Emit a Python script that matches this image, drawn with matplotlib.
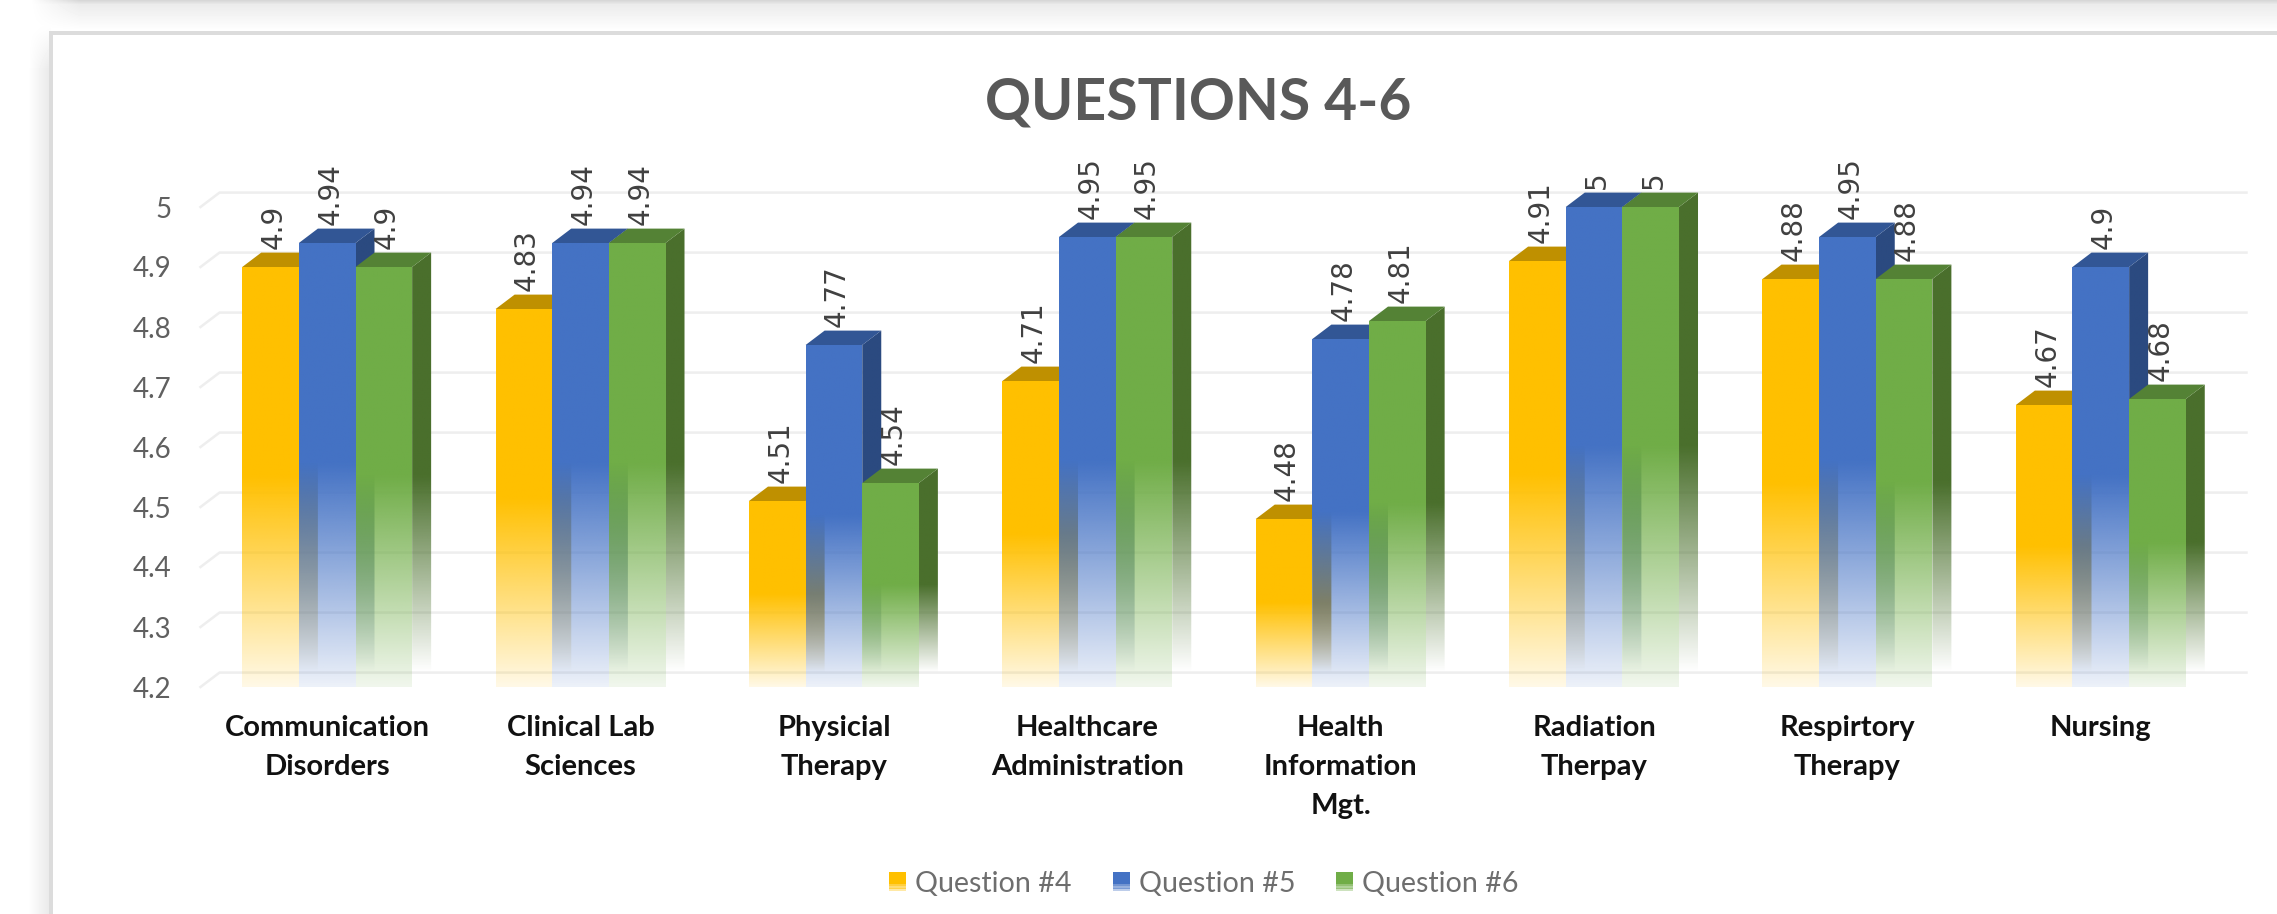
import numpy as np
import matplotlib
matplotlib.use('Agg')
import matplotlib.pyplot as plt
from matplotlib.colors import to_rgb
from matplotlib.legend_handler import HandlerBase
from matplotlib.patches import Polygon, Rectangle

categories = ['Communication\nDisorders', 'Clinical Lab\nSciences', 'Physicial\nTherapy',
              'Healthcare\nAdministration', 'Health\nInformation\nMgt.', 'Radiation\nTherpay',
              'Respirtory\nTherapy', 'Nursing']
q4 = [4.9, 4.83, 4.51, 4.71, 4.48, 4.91, 4.88, 4.67]
q5 = [4.94, 4.94, 4.77, 4.95, 4.78, 5, 4.95, 4.9]
q6 = [4.9, 4.94, 4.54, 4.95, 4.81, 5, 4.88, 4.68]
series_names = ['Question #4', 'Question #5', 'Question #6']
y_ticks = [4.2, 4.3, 4.4, 4.5, 4.6, 4.7, 4.8, 4.9, 5]
y_tick_labels = ['4.2', '4.3', '4.4', '4.5', '4.6', '4.7', '4.8', '4.9', '5']

front_cols = ['#FFC000', '#4472C4', '#70AD47']
top_cols = ['#BF9000', '#325695', '#548235']
side_cols = ['#BF9000', '#2B4A80', '#4A6F2C']

W, H = 2277, 914
BASE = 4.2
BAR_W = 0.2235
DX = 0.075
DY = 0.024


def add_background(fig):
    bg = fig.add_axes([0, 0, 1, 1], zorder=0)
    xx, yy = np.meshgrid(np.arange(W), np.arange(H))
    img = np.ones((H, W))
    # grey band along the top, fading out towards the left
    band = np.clip((xx - 30) / 50, 0, 1) * np.clip((30 - yy) / 30, 0, 1)
    img -= 0.09 * band
    img -= 0.07 * np.clip((xx - 30) / 50, 0, 1) * np.clip((4 - yy) / 4, 0, 1)
    # shadow left of the card
    left = np.clip((xx - 28) / 22, 0, 1) * np.clip((yy - 25) / 45, 0, 1) * (xx < 51)
    img -= 0.09 * left
    # the card
    card = (xx >= 51) & (yy >= 33)
    img[card] = 1
    img[(xx >= 49) & (xx < 53) & (yy >= 31)] = 0.86
    img[(xx >= 49) & (yy >= 31) & (yy < 35)] = 0.86
    bg.imshow(img, cmap='gray', vmin=0, vmax=1, aspect='auto', interpolation='nearest')
    bg.axis('off')


def fade_image(ax, verts, color, top, start, stop, end_alpha, zorder, x0, x1):
    n = 200
    levels = np.linspace(top, BASE, n)
    alpha = np.where(levels > start, 1.0,
                     end_alpha + (1 - end_alpha) * (levels - stop) / (start - stop))
    alpha = np.clip(alpha, 0, 1)
    rgba = np.ones((n, 2, 4))
    rgba[:, :, :3] = to_rgb(color)
    rgba[:, :, 3] = alpha[:, None]
    im = ax.imshow(rgba, extent=[x0, x1, BASE, top], aspect='auto', zorder=zorder,
                   interpolation='bilinear')
    im.set_clip_box(ax.figure.bbox)
    im.set_clip_path(Polygon(verts, closed=True, transform=ax.transData))


def draw_bar(ax, x, val, k, zorder):
    left, right = x, x + BAR_W
    start = BASE + (val - BASE) * 0.5
    side = [(right, val), (right + DX, val + DY), (right + DX, BASE + DY), (right, BASE)]
    fade_image(ax, side, side_cols[k], val + DY, start, BASE + DY, 0.0, zorder, right, right + DX)
    top = [(left, val), (left + DX, val + DY), (right + DX, val + DY), (right, val)]
    ax.add_patch(Polygon(top, closed=True, fc=top_cols[k], ec='none', zorder=zorder + 0.1,
                         clip_on=False))
    front = [(left, val), (right, val), (right, BASE), (left, BASE)]
    fade_image(ax, front, front_cols[k], val, start, BASE, 0.1, zorder + 0.2, left, right)
    ax.text(x + BAR_W / 2 + 0.012, val + DY + 0.006, str(val), rotation=90, ha='center',
            va='bottom', fontsize=20, color='#404040', family='DejaVu Sans', zorder=100)


class FadeSwatch(HandlerBase):
    def create_artists(self, legend, orig, xd, yd, width, height, fontsize, trans):
        out = []
        steps = 8
        for i in range(steps):
            a = 1.0 if i > 2 else 0.35 + 0.2 * i
            out.append(Rectangle((xd, -yd + height * i / steps), width, height / steps + 0.3,
                                 fc=orig.get_facecolor(), ec='none', alpha=a, transform=trans))
        return out


fig = plt.figure(figsize=(W / 100, H / 100), dpi=100, facecolor='white')
add_background(fig)

ax = fig.add_axes([200.5 / W, 1 - 687 / H, 2027 / W, 480 / H], zorder=1)
ax.patch.set_alpha(0)

# back wall gridlines and the little floor ticks
for t in y_ticks:
    ax.plot([-0.5, -0.5 + DX, 7.5 + DX], [t, t + DY, t + DY], color='#EEEEEE', lw=1.8,
            clip_on=False, zorder=1, solid_joinstyle='miter')

for i in range(len(categories)):
    for k, vals in enumerate([q4, q5, q6]):
        x = i + (k - 1.5) * BAR_W
        draw_bar(ax, x, vals[i], k, 10 + i + k)

ax.set_xlim(-0.5, 7.5)
ax.set_ylim(BASE, 5)
ax.set_yticks(y_ticks)
ax.set_yticklabels(y_tick_labels, family='Lato', fontsize=20, color='#606060')
ax.set_xticks(range(len(categories)))
ax.set_xticklabels(categories, family='Lato', fontweight='bold', fontsize=21, color='#111111',
                   linespacing=1.63)
ax.tick_params(axis='both', length=0)
ax.tick_params(axis='y', pad=21)
ax.tick_params(axis='x', pad=20)
for s in ax.spines.values():
    s.set_visible(False)

fig.text(1198 / W, 1 - 103 / H, 'QUESTIONS 4-6', family='Lato', fontweight='bold', fontsize=41,
         color='#595959', ha='center', va='center')

handles = [Rectangle((0, 0), 1, 1, fc=c) for c in front_cols]
fig.legend(handles, series_names, loc='center', bbox_to_anchor=(1204 / W, 1 - 884 / H), ncol=3,
           frameon=False, prop={'family': 'Lato', 'size': 20.6}, labelcolor='#6E6E6E',
           handler_map={Rectangle: FadeSwatch()}, handlelength=0.6, handleheight=0.6,
           handletextpad=0.32, columnspacing=1.42)

fig.savefig('out.png', dpi=100)
